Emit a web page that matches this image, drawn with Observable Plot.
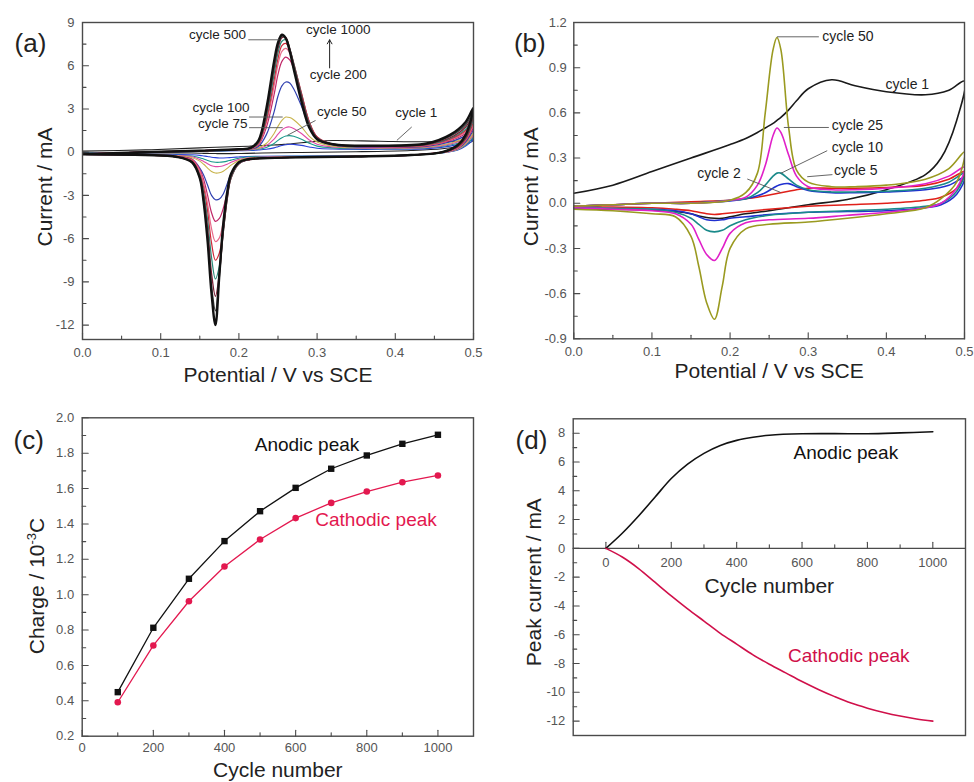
<!DOCTYPE html>
<html><head><meta charset="utf-8">
<script src="https://cdn.jsdelivr.net/npm/d3@7"></script>
<script src="https://cdn.jsdelivr.net/npm/@observablehq/plot@0.6"></script>
<style>
body{margin:0;background:#fff;}
#fig{position:relative;width:974px;height:782px;overflow:hidden;background:#fff;}
#fig svg{position:absolute;overflow:visible;}
</style></head><body><div id="fig"></div>
<script>
// ---------- Panel (a): CV curves, cycles 1..1000 ----------
const potFwdA = [0, 0.08, 0.15, 0.2, 0.215, 0.225, 0.235, 0.245, 0.25, 0.255, 0.26, 0.265, 0.27, 0.28, 0.29, 0.3, 0.32, 0.38, 0.44, 0.47, 0.49, 0.5];
const potRevA = [0.5, 0.49, 0.48, 0.46, 0.42, 0.35, 0.28, 0.23, 0.21, 0.2, 0.19, 0.185, 0.18, 0.175, 0.17, 0.165, 0.16, 0.155, 0.15, 0.14, 0.12, 0.08, 0];
const cyclesA = [1, 25, 50, 75, 100, 200, 300, 400, 500, 600, 700, 800, 1000];
const colorsA = ["#222222", "#2a3fd8", "#1a9a8c", "#e04aa8", "#c8b44c", "#3040b0", "#c02868", "#e86a8a", "#d02838", "#2a8a78", "#7a2035", "#444444", "#111111"];
const fwdA = [
  [0.07, 0.16, 0.3, 0.39, 0.42, 0.45, 0.47, 0.5, 0.51, 0.53, 0.55, 0.57, 0.6, 0.65, 0.71, 0.76, 0.81, 0.76, 0.72, 0.74, 0.78, 0.81],
  [-0.1, 0.0, 0.05, 0.1, 0.12, 0.15, 0.2, 0.3, 0.38, 0.46, 0.52, 0.55, 0.54, 0.47, 0.36, 0.27, 0.22, 0.2, 0.25, 0.42, 0.68, 0.9],
  [-0.1, 0.0, 0.06, 0.13, 0.16, 0.2, 0.32, 0.6, 0.82, 1.0, 1.12, 1.15, 1.1, 0.9, 0.62, 0.42, 0.3, 0.24, 0.3, 0.5, 0.8, 1.05],
  [-0.11, 0.0, 0.07, 0.15, 0.18, 0.25, 0.45, 0.9, 1.25, 1.55, 1.72, 1.75, 1.65, 1.3, 0.85, 0.55, 0.36, 0.27, 0.33, 0.56, 0.9, 1.2],
  [-0.11, 0.0, 0.08, 0.17, 0.2, 0.3, 0.6, 1.3, 1.8, 2.2, 2.44, 2.4, 2.25, 1.75, 1.1, 0.7, 0.42, 0.3, 0.36, 0.62, 1.0, 1.35],
  [-0.12, 0.0, 0.1, 0.2, 0.22, 0.4, 1.2, 2.8, 3.9, 4.6, 4.87, 4.8, 4.4, 3.2, 1.8, 0.95, 0.5, 0.33, 0.4, 0.72, 1.15, 1.6],
  [-0.12, 0.0, 0.1, 0.2, 0.24, 0.5, 1.7, 4.0, 5.4, 6.3, 6.6, 6.4, 5.8, 4.0, 2.1, 1.05, 0.55, 0.36, 0.44, 0.8, 1.3, 1.8],
  [-0.13, 0.0, 0.1, 0.2, 0.25, 0.55, 2.0, 4.6, 6.1, 7.0, 7.2, 6.9, 6.1, 4.1, 2.1, 1.05, 0.55, 0.38, 0.47, 0.85, 1.4, 2.0],
  [-0.13, 0.0, 0.1, 0.2, 0.26, 0.6, 2.2, 5.0, 6.5, 7.4, 7.55, 7.1, 6.2, 4.1, 2.1, 1.05, 0.55, 0.4, 0.5, 0.9, 1.5, 2.2],
  [-0.14, 0.0, 0.1, 0.2, 0.27, 0.65, 2.4, 5.4, 6.9, 7.7, 7.8, 7.2, 6.2, 4.0, 2.0, 1.0, 0.55, 0.42, 0.52, 0.95, 1.6, 2.4],
  [-0.14, 0.0, 0.1, 0.2, 0.28, 0.7, 2.6, 5.8, 7.2, 7.95, 7.95, 7.2, 6.1, 3.9, 1.9, 1.0, 0.55, 0.43, 0.55, 1.0, 1.75, 2.6],
  [-0.15, 0.0, 0.1, 0.2, 0.3, 0.75, 2.8, 6.0, 7.4, 8.05, 7.9, 7.1, 6.0, 3.7, 1.8, 0.95, 0.55, 0.45, 0.58, 1.1, 1.9, 2.8],
  [-0.15, 0.0, 0.1, 0.2, 0.3, 0.8, 3.0, 6.3, 7.6, 8.15, 7.9, 7.0, 5.8, 3.5, 1.7, 0.9, 0.55, 0.45, 0.6, 1.2, 2.1, 3.1]
];
const revA = [
  [0.81, 0.55, 0.4, 0.24, 0.12, 0.03, -0.02, -0.06, -0.08, -0.09, -0.1, -0.1, -0.1, -0.1, -0.095, -0.09, -0.085, -0.08, -0.07, -0.06, -0.05, -0.045, -0.035],
  [0.9, 0.42, 0.15, -0.06, -0.2, -0.25, -0.27, -0.28, -0.3, -0.33, -0.37, -0.39, -0.4, -0.4, -0.38, -0.35, -0.3, -0.26, -0.22, -0.18, -0.16, -0.14, -0.11],
  [1.05, 0.5, 0.18, -0.05, -0.2, -0.26, -0.28, -0.3, -0.33, -0.42, -0.55, -0.62, -0.67, -0.7, -0.7, -0.66, -0.58, -0.48, -0.38, -0.27, -0.21, -0.17, -0.12],
  [1.2, 0.56, 0.2, -0.04, -0.2, -0.27, -0.3, -0.34, -0.4, -0.5, -0.7, -0.84, -0.94, -0.99, -1.0, -0.94, -0.8, -0.64, -0.5, -0.32, -0.23, -0.18, -0.13],
  [1.35, 0.62, 0.22, -0.03, -0.2, -0.28, -0.32, -0.38, -0.45, -0.58, -0.9, -1.12, -1.32, -1.43, -1.45, -1.34, -1.1, -0.84, -0.62, -0.38, -0.26, -0.19, -0.14],
  [1.6, 0.72, 0.25, -0.02, -0.2, -0.3, -0.35, -0.42, -0.55, -0.8, -1.5, -2.2, -2.9, -3.25, -3.3, -3.0, -2.3, -1.6, -1.1, -0.5, -0.3, -0.2, -0.15],
  [1.8, 0.8, 0.3, 0.0, -0.2, -0.3, -0.35, -0.42, -0.55, -0.8, -1.7, -2.8, -3.9, -4.6, -4.8, -4.2, -3.0, -1.9, -1.2, -0.5, -0.3, -0.2, -0.15],
  [2.0, 0.85, 0.3, 0.0, -0.2, -0.3, -0.35, -0.42, -0.55, -0.8, -1.8, -3.1, -4.8, -5.95, -6.2, -5.3, -3.6, -2.2, -1.3, -0.55, -0.32, -0.2, -0.15],
  [2.2, 0.9, 0.35, 0.0, -0.2, -0.3, -0.35, -0.42, -0.55, -0.8, -1.8, -3.3, -5.4, -7.0, -7.5, -6.3, -4.1, -2.5, -1.5, -0.6, -0.32, -0.2, -0.15],
  [2.4, 0.95, 0.4, 0.0, -0.2, -0.3, -0.35, -0.42, -0.55, -0.8, -1.8, -3.3, -5.6, -7.9, -8.8, -7.3, -4.7, -2.8, -1.6, -0.65, -0.32, -0.2, -0.15],
  [2.6, 1.0, 0.4, 0.0, -0.2, -0.3, -0.35, -0.42, -0.55, -0.75, -1.7, -3.2, -5.6, -8.4, -10.0, -8.4, -5.3, -3.1, -1.7, -0.7, -0.32, -0.2, -0.15],
  [2.8, 1.1, 0.45, 0.0, -0.2, -0.3, -0.35, -0.42, -0.52, -0.72, -1.6, -3.0, -5.3, -8.6, -11.0, -9.3, -5.9, -3.4, -1.8, -0.7, -0.32, -0.2, -0.15],
  [3.1, 1.2, 0.5, 0.0, -0.2, -0.3, -0.35, -0.42, -0.5, -0.7, -1.5, -2.8, -5.0, -8.5, -12.0, -9.8, -6.2, -3.5, -1.8, -0.7, -0.32, -0.2, -0.15]
];
const widthsA = [1.1, 1.1, 1.1, 1.1, 1.1, 1.2, 1.2, 1.2, 1.2, 1.2, 1.3, 1.5, 2.4];
const labelsAEnd = [
  {text: "cycle 500", x: 0.209, y: 8.15},
  {text: "cycle 100", x: 0.2135, y: 3.08},
  {text: "cycle 75", x: 0.211, y: 1.98}
];
const labelsAMid = [
  {text: "cycle 1000", x: 0.327, y: 8.5},
  {text: "cycle 200", x: 0.327, y: 5.4}
];
const labelsAStart = [
  {text: "cycle 50", x: 0.300, y: 2.79},
  {text: "cycle 1", x: 0.400, y: 2.72}
];
const leadersA = [
  {x1: 0.212, y1: 7.8, x2: 0.252, y2: 7.8},
  {x1: 0.213, y1: 2.44, x2: 0.256, y2: 2.44},
  {x1: 0.213, y1: 1.7, x2: 0.256, y2: 1.7},
  {x1: 0.298, y1: 2.2, x2: 0.262, y2: 1.17},
  {x1: 0.421, y1: 1.75, x2: 0.402, y2: 0.82}
];
const arrowA = [{x1: 0.316, y1: 5.85, x2: 0.316, y2: 7.8}];

// ---------- Panel (b): early cycles ----------
const potFwdB = [0, 0.05, 0.1, 0.15, 0.2, 0.22, 0.235, 0.245, 0.255, 0.26, 0.265, 0.275, 0.285, 0.3, 0.33, 0.36, 0.4, 0.45, 0.48, 0.5];
const potRevB = [0.5, 0.49, 0.47, 0.45, 0.4, 0.35, 0.3, 0.25, 0.22, 0.2, 0.19, 0.18, 0.17, 0.16, 0.15, 0.13, 0.1, 0.05, 0];
const cyclesB = [1, 2, 5, 10, 25, 50];
const colorsB = ["#1a1a1a", "#e0201a", "#2030d0", "#1a8a8a", "#e020c8", "#9a9a20"];
const fwdB = [
  [0.066, 0.12, 0.21, 0.3, 0.39, 0.43, 0.47, 0.5, 0.53, 0.55, 0.57, 0.62, 0.68, 0.76, 0.82, 0.78, 0.74, 0.72, 0.75, 0.81],
  [-0.02, -0.01, 0.0, 0.01, 0.02, 0.03, 0.04, 0.05, 0.06, 0.065, 0.07, 0.08, 0.09, 0.1, 0.1, 0.1, 0.105, 0.12, 0.16, 0.21],
  [-0.02, -0.01, 0.0, 0.0, 0.015, 0.03, 0.05, 0.07, 0.1, 0.115, 0.125, 0.13, 0.11, 0.085, 0.07, 0.07, 0.075, 0.09, 0.12, 0.17],
  [-0.02, -0.01, 0.0, 0.0, 0.02, 0.03, 0.07, 0.12, 0.18, 0.2, 0.2, 0.16, 0.12, 0.09, 0.075, 0.075, 0.08, 0.1, 0.14, 0.2],
  [-0.02, -0.01, 0.0, 0.0, 0.02, 0.04, 0.12, 0.25, 0.45, 0.5, 0.47, 0.32, 0.18, 0.11, 0.09, 0.09, 0.1, 0.13, 0.18, 0.24],
  [-0.02, -0.01, 0.0, 0.0, 0.02, 0.07, 0.2, 0.6, 1.02, 1.1, 1.02, 0.5, 0.22, 0.14, 0.11, 0.11, 0.12, 0.16, 0.23, 0.34]
];
const revB = [
  [0.81, 0.55, 0.3, 0.19, 0.09, 0.025, -0.01, -0.05, -0.07, -0.09, -0.1, -0.1, -0.095, -0.085, -0.07, -0.055, -0.045, -0.04, -0.035],
  [0.21, 0.1, 0.04, 0.02, 0.0, -0.01, -0.02, -0.04, -0.055, -0.065, -0.07, -0.075, -0.07, -0.06, -0.05, -0.04, -0.03, -0.025, -0.02],
  [0.17, 0.06, -0.01, -0.03, -0.05, -0.055, -0.06, -0.075, -0.09, -0.1, -0.11, -0.115, -0.11, -0.09, -0.07, -0.05, -0.04, -0.035, -0.03],
  [0.2, 0.08, 0.0, -0.02, -0.04, -0.05, -0.06, -0.08, -0.11, -0.15, -0.18, -0.19, -0.18, -0.14, -0.1, -0.06, -0.04, -0.035, -0.03],
  [0.24, 0.1, 0.0, -0.03, -0.06, -0.08, -0.1, -0.11, -0.13, -0.2, -0.3, -0.38, -0.34, -0.24, -0.14, -0.07, -0.05, -0.04, -0.03],
  [0.34, 0.14, 0.03, -0.03, -0.07, -0.1, -0.125, -0.14, -0.17, -0.3, -0.55, -0.77, -0.66, -0.42, -0.22, -0.09, -0.07, -0.05, -0.04]
];
const labelsB = [
  {text: "cycle 50", x: 0.318, y: 1.11},
  {text: "cycle 1", x: 0.399, y: 0.79},
  {text: "cycle 25", x: 0.330, y: 0.515},
  {text: "cycle 10", x: 0.330, y: 0.367},
  {text: "cycle 5", x: 0.333, y: 0.22},
  {text: "cycle 2", x: 0.158, y: 0.198}
];
const leadersB = [
  {x1: 0.26, y1: 1.105, x2: 0.3136, y2: 1.105},
  {x1: 0.2688, y1: 0.503, x2: 0.3264, y2: 0.503},
  {x1: 0.3243, y1: 0.349, x2: 0.2646, y2: 0.198},
  {x1: 0.331, y1: 0.19, x2: 0.2987, y2: 0.176},
  {x1: 0.222, y1: 0.161, x2: 0.2646, y2: 0.072}
];

// ---------- Panel (c): charge ----------
const cyclesC = [100, 200, 300, 400, 500, 600, 700, 800, 900, 1000];
const anodicC = [0.449, 0.813, 1.09, 1.303, 1.472, 1.604, 1.712, 1.787, 1.853, 1.904];
const cathodicC = [0.392, 0.713, 0.963, 1.159, 1.312, 1.433, 1.519, 1.583, 1.636, 1.674];
const labelsC = [
  {text: "Anodic peak", x: 632, y: 1.849, color: "#111"},
  {text: "Cathodic peak", x: 826, y: 1.42, color: "#e3184f"}
];

// ---------- Panel (d): peak current ----------
const cyclesDa = [0, 50, 100, 150, 200, 250, 300, 350, 400, 450, 500, 600, 700, 800, 900, 1000];
const anodicD = [0, 1.05, 2.25, 3.55, 4.85, 5.85, 6.6, 7.15, 7.5, 7.72, 7.86, 7.96, 7.97, 7.96, 8.02, 8.1];
const cyclesDc = [0, 50, 100, 150, 200, 250, 300, 350, 400, 450, 500, 550, 600, 650, 700, 750, 800, 850, 900, 950, 1000];
const cathodicD = [0, -0.6, -1.4, -2.35, -3.3, -4.2, -5.05, -5.9, -6.65, -7.4, -8.05, -8.65, -9.25, -9.8, -10.3, -10.75, -11.1, -11.4, -11.65, -11.85, -12.0];
const labelsD = [
  {text: "Anodic peak", x: 734, y: 6.62, color: "#111"},
  {text: "Cathodic peak", x: 743, y: -7.5, color: "#d0104a"}
];

// ---------- Tick arrays ----------
const xMajA = [0, 0.1, 0.2, 0.3, 0.4, 0.5], xMinA = [0.05, 0.15, 0.25, 0.35, 0.45];
const yMajA = [-12, -9, -6, -3, 0, 3, 6, 9], yMinA = [-10.5, -7.5, -4.5, -1.5, 1.5, 4.5, 7.5];
const yMajB = [-0.9, -0.6, -0.3, 0, 0.3, 0.6, 0.9, 1.2], yMinB = [-0.75, -0.45, -0.15, 0.15, 0.45, 0.75, 1.05];
const xMajC = [0, 200, 400, 600, 800, 1000], xMinC = [100, 300, 500, 700, 900];
const yMajC = [0.2, 0.4, 0.6, 0.8, 1.0, 1.2, 1.4, 1.6, 1.8, 2.0], yMinC = [0.3, 0.5, 0.7, 0.9, 1.1, 1.3, 1.5, 1.7, 1.9];
const xMajD = [0, 200, 400, 600, 800, 1000], xMinD = [100, 300, 500, 700, 900];
const yMajD = [-12, -10, -8, -6, -4, -2, 0, 2, 4, 6, 8], yMinD = [-11, -9, -7, -5, -3, -1, 1, 3, 5, 7];

// ---------- helpers ----------
const FONT = "'Liberation Sans', Arial, Helvetica, sans-serif";
const AX = "#4a4a4a";
const TL = "#555";
const tickUp = {draw(c, l) { c.moveTo(0, 0); c.lineTo(0, -l); }};
const tickRight = {draw(c, l) { c.moveTo(0, 0); c.lineTo(l, 0); }};
const f1 = d => d.toFixed(1);
const f0 = d => String(d);

function frameTicks(xMaj, xMin, yMaj, yMin) {
  const m = [];
  if (xMaj) m.push(Plot.vector(xMaj, {x: d => d, frameAnchor: "bottom", length: 6, anchor: "start", shape: tickUp, stroke: AX, strokeWidth: 1.1}));
  if (xMin) m.push(Plot.vector(xMin, {x: d => d, frameAnchor: "bottom", length: 3.5, anchor: "start", shape: tickUp, stroke: AX, strokeWidth: 1.1}));
  m.push(Plot.vector(yMaj, {y: d => d, frameAnchor: "left", length: 6, anchor: "start", shape: tickRight, stroke: AX, strokeWidth: 1.1}));
  m.push(Plot.vector(yMin, {y: d => d, frameAnchor: "left", length: 3.5, anchor: "start", shape: tickRight, stroke: AX, strokeWidth: 1.1}));
  return m;
}
function cvRows(pf, pr, fwd, rev) {
  return pf.map((E, i) => ({E, I: fwd[i]})).concat(pr.slice(1).map((E, i) => ({E, I: rev[i + 1]})));
}
const style = {fontFamily: FONT, fontSize: "13px", color: TL, background: "transparent"};
function titleTexts(ylab, ydx, ydy, xlab, xdy, panel, pdx, pdy) {
  const m = [
    Plot.text([ylab], {text: d => d, frameAnchor: "left", rotate: -90, dx: ydx, dy: ydy, fontSize: 21, fill: "#222", textAnchor: "middle", lineAnchor: "middle"}),
    Plot.text([panel], {text: d => d, frameAnchor: "top-left", dx: pdx, dy: pdy, fontSize: 26, fill: "#222", textAnchor: "middle", lineAnchor: "middle"})
  ];
  if (xlab) m.push(Plot.text([xlab], {text: d => d, frameAnchor: "bottom", dy: xdy, fontSize: 21, fill: "#222", textAnchor: "middle", lineAnchor: "middle"}));
  return m;
}
const fig = document.getElementById("fig");
function place(svg, left, top) { svg.style.left = left + "px"; svg.style.top = top + "px"; fig.appendChild(svg); }

// ---------- Panel (a) ----------
{
  const marks = [];
  cyclesA.forEach((c, k) => {
    marks.push(Plot.line(cvRows(potFwdA, potRevA, fwdA[k], revA[k]), {x: "E", y: "I", stroke: colorsA[k], strokeWidth: widthsA[k], curve: "catmull-rom", clip: true}));
  });
  const p = Plot.plot({
    width: 487, height: 390, marginLeft: 82, marginRight: 14, marginTop: 22, marginBottom: 51,
    style, x: {domain: [0, 0.5], axis: null}, y: {domain: [-13, 9], axis: null},
    marks: [
      ...frameTicks(xMajA, xMinA, yMajA, yMinA),
      Plot.axisX({ticks: xMajA, tickSize: 0, tickPadding: 8, tickFormat: f1, fontSize: 13, label: null}),
      Plot.axisY({ticks: yMajA, tickSize: 0, tickPadding: 8, tickFormat: f0, fontSize: 13, label: null}),
      ...marks,
      Plot.link(leadersA, {x1: "x1", y1: "y1", x2: "x2", y2: "y2", stroke: "#555", strokeWidth: 0.9}),
      Plot.arrow(arrowA, {x1: "x1", y1: "y1", x2: "x2", y2: "y2", stroke: "#222", strokeWidth: 1, headLength: 7}),
      Plot.text(labelsAEnd, {x: "x", y: "y", text: "text", textAnchor: "end", fontSize: 13.5, fill: "#222"}),
      Plot.text(labelsAMid, {x: "x", y: "y", text: "text", textAnchor: "middle", fontSize: 13.5, fill: "#222"}),
      Plot.text(labelsAStart, {x: "x", y: "y", text: "text", textAnchor: "start", fontSize: 13.5, fill: "#222"}),
      Plot.frame({stroke: AX, strokeWidth: 1.4}),
      ...titleTexts("Current / mA", -37, 6, "Potential / V vs SCE", 36, "(a)", -52, 21)
    ]
  });
  place(p, 0, 0);
}

// ---------- Panel (b) ----------
{
  const marks = [];
  cyclesB.forEach((c, k) => {
    marks.push(Plot.line(cvRows(potFwdB, potRevB, fwdB[k], revB[k]), {x: "E", y: "I", stroke: colorsB[k], strokeWidth: 1.6, curve: "catmull-rom", clip: true}));
  });
  const p = Plot.plot({
    width: 487, height: 390, marginLeft: 86.3, marginRight: 10, marginTop: 22, marginBottom: 51.7,
    style, x: {domain: [0, 0.5], axis: null}, y: {domain: [-0.9, 1.2], axis: null},
    marks: [
      ...frameTicks(xMajA, xMinA, yMajB, yMinB),
      Plot.axisX({ticks: xMajA, tickSize: 0, tickPadding: 8, tickFormat: f1, fontSize: 13, label: null}),
      Plot.axisY({ticks: yMajB, tickSize: 0, tickPadding: 7, tickFormat: f1, fontSize: 13, label: null}),
      ...marks,
      Plot.link(leadersB, {x1: "x1", y1: "y1", x2: "x2", y2: "y2", stroke: "#555", strokeWidth: 0.9}),
      Plot.text(labelsB, {x: "x", y: "y", text: "text", textAnchor: "start", fontSize: 14, fill: "#222"}),
      Plot.frame({stroke: AX, strokeWidth: 1.4}),
      ...titleTexts("Current / mA", -43, 6, "Potential / V vs SCE", 32, "(b)", -44, 21)
    ]
  });
  place(p, 487, 0);
}

// ---------- Panel (c) ----------
{
  const an = cyclesC.map((c, i) => ({c, v: anodicC[i]}));
  const ca = cyclesC.map((c, i) => ({c, v: cathodicC[i]}));
  const red = "#e3184f";
  const p = Plot.plot({
    width: 487, height: 392, marginLeft: 81.7, marginRight: 14, marginTop: 27.3, marginBottom: 46.3,
    style, x: {domain: [0, 1100], axis: null}, y: {domain: [0.2, 2.0], axis: null},
    marks: [
      ...frameTicks(xMajC, xMinC, yMajC, yMinC),
      Plot.axisX({ticks: xMajC, tickSize: 0, tickPadding: 7, tickFormat: f0, fontSize: 13, label: null}),
      Plot.axisY({ticks: yMajC, tickSize: 0, tickPadding: 8, tickFormat: f1, fontSize: 13, label: null}),
      Plot.line(ca, {x: "c", y: "v", stroke: red, strokeWidth: 1.3}),
      Plot.dot(ca, {x: "c", y: "v", fill: red, r: 3.3, symbol: "circle"}),
      Plot.line(an, {x: "c", y: "v", stroke: "#111", strokeWidth: 1.3}),
      Plot.dot(an, {x: "c", y: "v", fill: "#111", r: 3.6, symbol: "square"}),
      Plot.text(labelsC, {x: "x", y: "y", text: "text", fill: d => d.color, fontSize: 19}),
      Plot.frame({stroke: AX, strokeWidth: 1.4}),
      ...titleTexts("Charge / 10-3C", -45, 9, "Cycle number", 34, "(c)", -53.5, 23)
    ]
  });
  // superscript the exponent
  p.querySelectorAll("text").forEach(t => {
    if (t.textContent === "Charge / 10-3C") {
      const ns = "http://www.w3.org/2000/svg";
      t.textContent = "";
      const a = document.createElementNS(ns, "tspan"); a.textContent = "Charge / 10";
      const b = document.createElementNS(ns, "tspan"); b.textContent = "-3"; b.setAttribute("dy", "-8"); b.setAttribute("font-size", "13");
      const c = document.createElementNS(ns, "tspan"); c.textContent = "C"; c.setAttribute("dy", "8");
      t.appendChild(a); t.appendChild(b); t.appendChild(c);
    }
  });
  place(p, 0, 390);
}

// ---------- Panel (d) ----------
{
  const an = cyclesDa.map((c, i) => ({c, v: anodicD[i]}));
  const ca = cyclesDc.map((c, i) => ({c, v: cathodicD[i]}));
  const p = Plot.plot({
    width: 487, height: 392, marginLeft: 85.7, marginRight: 9, marginTop: 28.3, marginBottom: 47,
    style, x: {domain: [-100, 1100], axis: null}, y: {domain: [-13, 9], axis: null},
    marks: [
      ...frameTicks(null, null, yMajD, yMinD),
      Plot.ruleY([0], {stroke: AX, strokeWidth: 1.3}),
      Plot.vector(xMajD, {x: d => d, y: () => 0, length: 6, anchor: "start", shape: tickUp, stroke: AX, strokeWidth: 1.1}),
      Plot.vector(xMinD, {x: d => d, y: () => 0, length: 3.5, anchor: "start", shape: tickUp, stroke: AX, strokeWidth: 1.1}),
      Plot.text(xMajD, {x: d => d, y: () => 0, dy: 14, text: f0, fontSize: 13, fill: TL}),
      Plot.text(["Cycle number"], {x: () => 500, y: () => 0, dy: 38, text: d => d, fontSize: 21, fill: "#222"}),
      Plot.axisY({ticks: yMajD, tickSize: 0, tickPadding: 8, tickFormat: f0, fontSize: 13, label: null}),
      Plot.line(an, {x: "c", y: "v", stroke: "#111", strokeWidth: 1.6, curve: "catmull-rom"}),
      Plot.line(ca, {x: "c", y: "v", stroke: "#d0104a", strokeWidth: 1.6, curve: "catmull-rom"}),
      Plot.text(labelsD, {x: "x", y: "y", text: "text", fill: d => d.color, fontSize: 19}),
      Plot.frame({stroke: AX, strokeWidth: 1.4}),
      ...titleTexts("Peak current / mA", -39.4, 5, null, 0, "(d)", -41.7, 21.7)
    ]
  });
  place(p, 487, 390);
}
</script></body></html>
